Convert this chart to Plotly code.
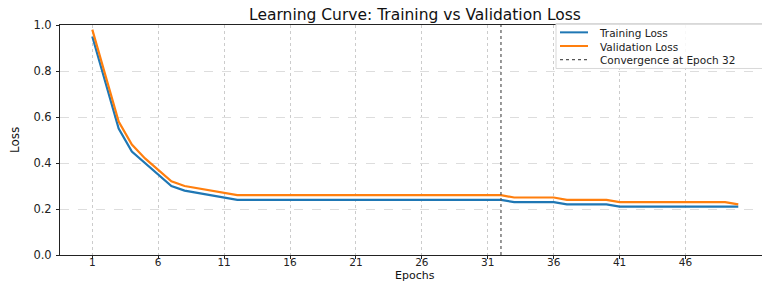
import plotly.graph_objects as go

epochs = [1, 2, 3, 4, 5, 6, 7, 8, 9, 10,
          11, 12, 13, 14, 15, 16, 17, 18, 19, 20,
          21, 22, 23, 24, 25, 26, 27, 28, 29, 30,
          31, 32, 33, 34, 35, 36, 37, 38, 39, 40,
          41, 42, 43, 44, 45, 46, 47, 48, 49, 50]

training_loss = [0.95, 0.75, 0.55, 0.45, 0.40, 0.35, 0.30, 0.28, 0.27, 0.26,
                 0.25, 0.24, 0.24, 0.24, 0.24, 0.24, 0.24, 0.24, 0.24, 0.24,
                 0.24, 0.24, 0.24, 0.24, 0.24, 0.24, 0.24, 0.24, 0.24, 0.24,
                 0.24, 0.24, 0.23, 0.23, 0.23, 0.23, 0.22, 0.22, 0.22, 0.22,
                 0.21, 0.21, 0.21, 0.21, 0.21, 0.21, 0.21, 0.21, 0.21, 0.21]

validation_loss = [0.98, 0.78, 0.58, 0.48, 0.42, 0.37, 0.32, 0.30, 0.29, 0.28,
                   0.27, 0.26, 0.26, 0.26, 0.26, 0.26, 0.26, 0.26, 0.26, 0.26,
                   0.26, 0.26, 0.26, 0.26, 0.26, 0.26, 0.26, 0.26, 0.26, 0.26,
                   0.26, 0.26, 0.25, 0.25, 0.25, 0.25, 0.24, 0.24, 0.24, 0.24,
                   0.23, 0.23, 0.23, 0.23, 0.23, 0.23, 0.23, 0.23, 0.23, 0.22]

convergence_epoch = 32
x_tick_values = [1, 6, 11, 16, 21, 26, 31, 36, 41, 46]
y_tick_values = [0.0, 0.2, 0.4, 0.6, 0.8, 1.0]

series_names = ["Training Loss", "Validation Loss", f"Convergence at Epoch {convergence_epoch}"]
series_colors = ["#1f77b4", "#ff7f0e", "#555555"]
series_dash = ["solid", "solid", "dot"]

FONT = "DejaVu Sans"

# plot-area geometry (pixels)
W, H = 762, 282
L, R, T, B = 60, 0, 25, 27
PW, PH = W - L - R, H - T - B


def px_x(px):
    return (px - L) / PW


def px_y(py):
    return (H - B - py) / PH


fig = go.Figure()
fig.add_trace(go.Scatter(x=epochs, y=training_loss, mode="lines", name=series_names[0],
                         line=dict(color=series_colors[0], width=2.2), showlegend=False))
fig.add_trace(go.Scatter(x=epochs, y=validation_loss, mode="lines", name=series_names[1],
                         line=dict(color=series_colors[1], width=2.2), showlegend=False))
fig.add_trace(go.Scatter(x=[convergence_epoch, convergence_epoch], y=[0, 1], mode="lines",
                         name=series_names[2], showlegend=False,
                         line=dict(color=series_colors[2], width=1.2, dash="dot")))

fig.update_layout(
    width=W, height=H,
    margin=dict(l=L, r=R, t=T, b=B, autoexpand=False),
    paper_bgcolor="white", plot_bgcolor="white",
    font=dict(family=FONT, size=11, color="#222222"),
    title=dict(text="Learning Curve: Training vs Validation Loss", x=415 / W, xanchor="center",
               y=1 - 15 / H, yanchor="middle", font=dict(size=15.5, color="#111111")),
    showlegend=False,
)

fig.update_xaxes(range=[-1.45, 51.8], tickvals=x_tick_values, ticks="outside", ticklen=3,
                 tickcolor="#222222", showline=True, linecolor="#222222", linewidth=1,
                 mirror=True, showgrid=True, gridcolor="#cccccc", griddash="dot",
                 gridwidth=1, zeroline=False, tickfont=dict(size=10.5),
                 ticklabelstandoff=-6)
fig.update_yaxes(range=[0, 1], tickvals=y_tick_values, tickformat=".1f", ticks="outside",
                 ticklen=3, tickcolor="#222222", showline=True, linecolor="#222222",
                 linewidth=1, mirror=False, showgrid=True, gridcolor="#dddddd",
                 griddash="dash", gridwidth=1, zeroline=False, tickfont=dict(size=11.5),
                 ticklabelstandoff=2)

fig.add_annotation(text="Epochs", xref="paper", yref="paper", x=px_x(415), y=px_y(275.5),
                   xanchor="center", yanchor="middle", showarrow=False,
                   font=dict(size=11, color="#111111"))
fig.add_annotation(text="Loss", xref="paper", yref="paper", x=px_x(15), y=0.5,
                   xanchor="center", yanchor="middle", showarrow=False, textangle=-90,
                   font=dict(size=12, color="#111111"))

# legend (drawn as a compact box like the reference)
legend_font = 10.5
line_gap = legend_font * 1.3
mid_y = 46
fig.add_shape(type="rect", xref="paper", yref="paper", x0=px_x(556), x1=px_x(770),
              y0=px_y(mid_y + 1.5 * line_gap + 2), y1=px_y(mid_y - 1.5 * line_gap - 2),
              line=dict(color="#d8d8d8", width=1),
              fillcolor="rgba(255,255,255,0.85)", layer="above")
for i, (name, color, dash) in enumerate(zip(series_names, series_colors, series_dash)):
    ry = mid_y + (i - 1) * line_gap
    fig.add_shape(type="line", xref="paper", yref="paper", x0=px_x(560), x1=px_x(588),
                  y0=px_y(ry), y1=px_y(ry), layer="above",
                  line=dict(color=color, width=2 if dash == "solid" else 1.2, dash=dash))
fig.add_annotation(text="<br>".join(series_names), xref="paper", yref="paper",
                   x=px_x(597), y=px_y(mid_y), xanchor="left", yanchor="middle",
                   align="left", showarrow=False,
                   font=dict(size=legend_font, color="#222222"))

fig.write_html("out.html", post_script="document.body.style.margin='0';",
               config={"displayModeBar": False})
